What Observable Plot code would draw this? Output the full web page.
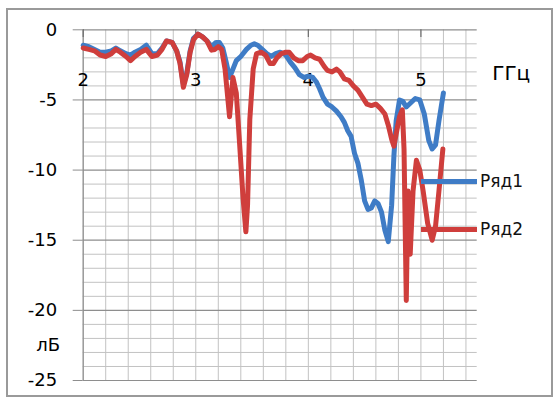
<!DOCTYPE html>
<html><head><meta charset="utf-8">
<script src="https://cdn.jsdelivr.net/npm/d3@7"></script>
<script src="https://cdn.jsdelivr.net/npm/@observablehq/plot@0.6"></script>
<style>
body{margin:0;background:#fff;}
#wrap{position:relative;width:555px;height:398px;overflow:hidden;font-family:"DejaVu Sans",sans-serif;}
#wrap svg{position:absolute;left:0;top:0;}
#frame{position:absolute;left:6px;top:8px;width:543px;height:385px;border:2px solid #9a9a9a;pointer-events:none;}
.lg{position:absolute;left:421px;display:flex;align-items:center;font-size:17px;color:#111;}
.lg span.sw{display:inline-block;width:56px;height:5px;margin-right:3px;}
</style></head><body>
<div id="wrap"><div id="frame"></div></div>
<script>
// Ряд1 (blue)
const freq1 = [2.00,2.05,2.10,2.15,2.20,2.25,2.29,2.33,2.38,2.42,2.46,2.51,2.56,2.61,2.66,2.70,2.74,2.79,2.83,2.86,2.89,2.92,2.95,2.98,3.02,3.06,3.10,3.14,3.18,3.21,3.24,3.27,3.30,3.33,3.36,3.40,3.45,3.49,3.52,3.55,3.59,3.63,3.67,3.71,3.75,3.80,3.84,3.88,3.92,3.96,4.00,4.04,4.07,4.10,4.13,4.17,4.21,4.25,4.29,4.32,4.35,4.38,4.41,4.44,4.47,4.50,4.53,4.56,4.59,4.62,4.65,4.68,4.71,4.74,4.76,4.78,4.81,4.84,4.87,4.91,4.95,4.99,5.03,5.07,5.10,5.13,5.16,5.20];
const ryad1 = [-1.1,-1.2,-1.4,-1.6,-1.6,-1.5,-1.3,-1.5,-1.7,-1.8,-1.6,-1.4,-1.1,-1.7,-1.7,-1.3,-0.8,-0.9,-1.5,-2.3,-3.9,-3.1,-1.5,-0.6,-0.3,-0.5,-0.8,-1.2,-0.9,-0.9,-1.3,-2.3,-3.4,-2.8,-2.2,-1.9,-1.4,-1.1,-1.0,-1.1,-1.4,-1.7,-1.9,-1.7,-1.6,-1.8,-2.3,-2.7,-3.2,-3.4,-3.3,-3.4,-3.7,-4.2,-4.8,-5.3,-5.5,-5.8,-6.2,-6.6,-7.2,-7.6,-8.8,-9.5,-10.7,-12.2,-12.8,-12.7,-12.2,-12.4,-13.0,-14.3,-15.1,-12.5,-9.0,-6.5,-5.0,-5.1,-5.5,-5.2,-4.9,-5.0,-6.0,-7.9,-8.5,-8.2,-6.5,-4.5];
// Ряд2 (red)
const freq2 = [2.00,2.05,2.10,2.15,2.20,2.25,2.29,2.33,2.38,2.42,2.46,2.51,2.56,2.61,2.66,2.70,2.74,2.79,2.83,2.86,2.89,2.92,2.95,2.98,3.02,3.06,3.10,3.14,3.17,3.20,3.23,3.26,3.28,3.30,3.33,3.36,3.39,3.42,3.445,3.46,3.48,3.51,3.54,3.58,3.62,3.66,3.69,3.72,3.76,3.80,3.83,3.87,3.91,3.95,3.99,4.02,4.06,4.10,4.14,4.17,4.21,4.25,4.28,4.32,4.36,4.40,4.44,4.48,4.52,4.56,4.60,4.64,4.68,4.71,4.74,4.76,4.79,4.81,4.835,4.85,4.87,4.885,4.905,4.93,4.96,4.99,5.02,5.06,5.10,5.13,5.16,5.195];
const ryad2 = [-1.3,-1.4,-1.5,-1.8,-1.9,-1.7,-1.4,-1.6,-1.9,-2.2,-1.9,-1.6,-1.4,-1.9,-1.8,-1.4,-0.8,-0.9,-1.5,-2.4,-4.1,-3.2,-1.6,-0.7,-0.3,-0.5,-0.8,-1.45,-1.4,-1.2,-1.4,-2.8,-4.5,-6.2,-3.4,-4.5,-8.2,-12.0,-14.4,-12.5,-6.4,-2.8,-1.7,-1.6,-1.8,-2.4,-2.4,-2.0,-1.7,-1.6,-1.6,-2.0,-2.2,-2.2,-1.9,-1.8,-2.0,-2.1,-2.6,-2.9,-3.0,-2.8,-3.0,-3.5,-3.6,-4.0,-4.3,-4.8,-5.3,-5.4,-5.3,-5.6,-6.0,-6.8,-7.8,-8.3,-7.0,-6.2,-5.7,-8.5,-19.3,-11.5,-16.0,-11.5,-9.3,-10.0,-11.5,-13.8,-15.0,-14.0,-11.5,-8.5];

const seriesNames = ["Ряд1", "Ряд2"];
const seriesColors = ["#3f7cc6", "#cf3e3c"];
const xTicks = [2, 3, 4, 5];
const yTicks = [0, -5, -10, -15, -20, -25];
const xGrid = [2.0,2.2,2.4,2.6,2.8,3.0,3.2,3.4,3.6,3.8,4.0,4.2,4.4,4.6,4.8,5.0,5.2,5.4];
const yMinor = [-1,-2,-3,-4,-6,-7,-8,-9,-11,-12,-13,-14,-16,-17,-18,-19,-21,-22,-23,-24];
const xUnit = "ГГц";
const yUnit = "лБ";

const s1 = freq1.map((f, i) => ({f, v: ryad1[i]}));
const s2 = freq2.map((f, i) => ({f, v: ryad2[i]}));

const chart = Plot.plot({
  width: 555,
  height: 398,
  marginLeft: 82.7,
  marginRight: 78.3,
  marginTop: 29.3,
  marginBottom: 18,
  style: {fontFamily: "DejaVu Sans, sans-serif", fontSize: "18px", background: "transparent", color: "#000"},
  x: {domain: [2, 5.5], axis: null},
  y: {domain: [-25, 0], axis: null},
  marks: [
    Plot.ruleX(xGrid, {stroke: "#c2c2c2", strokeWidth: 1}),
    Plot.ruleY(yMinor, {stroke: "#c2c2c2", strokeWidth: 1}),
    Plot.ruleY(yTicks, {stroke: "#8e8e8e", strokeWidth: 1.2}),
    Plot.ruleX([xTicks[0]], {stroke: "#8e8e8e", strokeWidth: 1.2}),
    Plot.ruleX(xTicks, {stroke: "#6e6e6e", strokeWidth: 1.2, insetBottom: 343}),
    Plot.axisY({ticks: yTicks, tickFormat: d => String(d), label: null, tickSize: 10, tickPadding: 16, stroke: "#8e8e8e", fill: "#000", fontSize: 18}),
    Plot.text(xTicks, {x: d => d, frameAnchor: "top", dy: 43, text: d => String(d), fontSize: 18, fill: "#000"}),
    Plot.text([xUnit], {frameAnchor: "top-right", dx: 34, dy: 36, text: d => d, fontSize: 20, fill: "#000", textAnchor: "middle"}),
    Plot.text([yUnit], {frameAnchor: "bottom-left", dx: -35, dy: -30, text: d => d, fontSize: 18, fill: "#000", textAnchor: "middle"}),
    Plot.line(s1, {x: "f", y: "v", stroke: seriesColors[0], strokeWidth: 5, strokeLinejoin: "round", strokeLinecap: "round"}),
    Plot.line(s2, {x: "f", y: "v", stroke: seriesColors[1], strokeWidth: 5, strokeLinejoin: "round", strokeLinecap: "round"})
  ]
});
const wrap = document.getElementById("wrap");
wrap.insertBefore(chart, wrap.firstChild);

// legend
const legendTops = [168, 216];
seriesNames.forEach((name, i) => {
  const row = document.createElement("div");
  row.className = "lg";
  row.style.top = legendTops[i] + "px";
  row.style.height = "26px";
  row.innerHTML = `<span class="sw" style="background:${seriesColors[i]}"></span><span>${name}</span>`;
  wrap.appendChild(row);
});
</script>
</body></html>
